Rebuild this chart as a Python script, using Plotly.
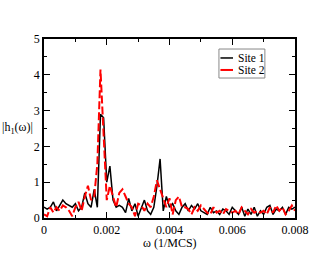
import plotly.graph_objects as go

omega = [i * 0.0001 for i in range(81)]

site1 = [0.3, 0.25, 0.3, 0.45, 0.2, 0.35, 0.5, 0.4, 0.35, 0.3,
         0.4, 0.2, 0.3, 0.7, 0.4, 0.3, 0.8, 0.3, 2.9, 2.8,
         1.0, 1.45, 0.5, 0.3, 0.35, 0.3, 0.15, 0.55, 0.2, 0.4,
         0.05, 0.3, 0.5, 0.2, 0.1, 0.3, 0.9, 1.65, 0.2, 0.6,
         0.3, 0.4, 0.2, 0.1, 0.3, 0.4, 0.2, 0.35, 0.25, 0.4,
         0.2, 0.15, 0.1, 0.3, 0.15, 0.2, 0.1, 0.25, 0.2, 0.1,
         0.3, 0.2, 0.1, 0.3, 0.05, 0.25, 0.1, 0.3, 0.05, 0.2,
         0.1, 0.3, 0.35, 0.1, 0.25, 0.2, 0.3, 0.1, 0.3, 0.25, 0.3]

site2 = [0.1, 0.05, 0.3, 0.15, 0.3, 0.2, 0.35, 0.3, 0.2, 0.05,
         0.3, 0.45, 0.2, 0.6, 0.9, 0.5, 0.6, 1.5, 4.15, 2.4,
         0.5, 0.9, 0.6, 0.3, 0.7, 0.8, 0.6, 0.4, 0.3, 0.05,
         0.4, 0.35, 0.2, 0.4, 0.3, 0.6, 1.05, 0.8, 0.5, 0.3,
         0.55, 0.1, 0.5, 0.6, 0.3, 0.3, 0.25, 0.1, 0.3, 0.2,
         0.35, 0.25, 0.15, 0.1, 0.3, 0.15, 0.2, 0.1, 0.25, 0.2,
         0.15, 0.2, 0.1, 0.3, 0.2, 0.1, 0.25, 0.15, 0.2, 0.15,
         0.2, 0.1, 0.3, 0.15, 0.35, 0.2, 0.3, 0.1, 0.2, 0.35, 0.2]

series_names = ["Site 1", "Site 2"]
series_colors = ["black", "red"]
series_dash = ["solid", "8px,3px"]
series_width = [1.5, 2]

xticks = [0, 0.002, 0.004, 0.006, 0.008]
xticklabels = ["0", "0.002", "0.004", "0.006", "0.008"]
yticks = [0, 1, 2, 3, 4, 5]

font = "Liberation Serif, Times New Roman, serif"

fig = go.Figure()
for name, ys, col, dsh, w in zip(series_names, [site1, site2], series_colors, series_dash, series_width):
    fig.add_trace(go.Scatter(x=omega, y=ys, mode="lines", name=name,
                             line=dict(color=col, width=w, dash=dsh)))

axis_common = dict(showline=True, linecolor="black", linewidth=1.5, mirror="ticks",
                   ticks="inside", ticklen=6, tickwidth=1, tickcolor="black",
                   showgrid=False, zeroline=False, automargin=False,
                   tickfont=dict(family=font, size=12, color="black"))

# custom compact legend (paper coordinates)
shapes = [dict(type="rect", xref="paper", yref="paper", x0=0.697, x1=0.880, y0=0.782, y1=0.944,
               line=dict(color="#888888", width=1), fillcolor="white", layer="above")]
annotations = []
leg_y = [0.894, 0.827]
for name, col, dsh, w, yy in zip(series_names, series_colors, series_dash, series_width, leg_y):
    shapes.append(dict(type="line", xref="paper", yref="paper", x0=0.703, x1=0.753, y0=yy, y1=yy,
                       line=dict(color=col, width=w), layer="above"))
    annotations.append(dict(xref="paper", yref="paper", x=0.763, y=yy, xanchor="left", yanchor="middle",
                            text=name, showarrow=False, font=dict(family=font, size=11.5, color="black")))

annotations.append(dict(xref="paper", yref="paper", x=0.5, y=-0.137, xanchor="center", yanchor="middle",
                        text="ω (1/MCS)", showarrow=False, font=dict(family=font, size=12, color="black")))
annotations.append(dict(xref="paper", yref="paper", x=-0.104, y=0.503, xanchor="center", yanchor="middle",
                        text="|h<sub>1</sub>(ω)|", showarrow=False, font=dict(family=font, size=12, color="black")))

fig.update_layout(
    width=332, height=257,
    margin=dict(l=44, r=37, t=39, b=39),
    paper_bgcolor="white", plot_bgcolor="white",
    font=dict(family=font, size=12, color="black"),
    showlegend=False,
    shapes=shapes,
    annotations=annotations,
    xaxis=dict(range=[0, 0.008], tickvals=xticks, ticktext=xticklabels,
               minor=dict(ticks="inside", ticklen=3, dtick=0.001, tickcolor="black"),
               **axis_common),
    yaxis=dict(range=[0, 5], tickvals=yticks,
               minor=dict(ticks="inside", ticklen=3, dtick=0.5, tickcolor="black"),
               **axis_common),
)

# remove the default 8px page margin so the figure fills the window exactly
fig.write_html("out.html", config={"displayModeBar": False},
               post_script="document.body.style.margin='0';")
